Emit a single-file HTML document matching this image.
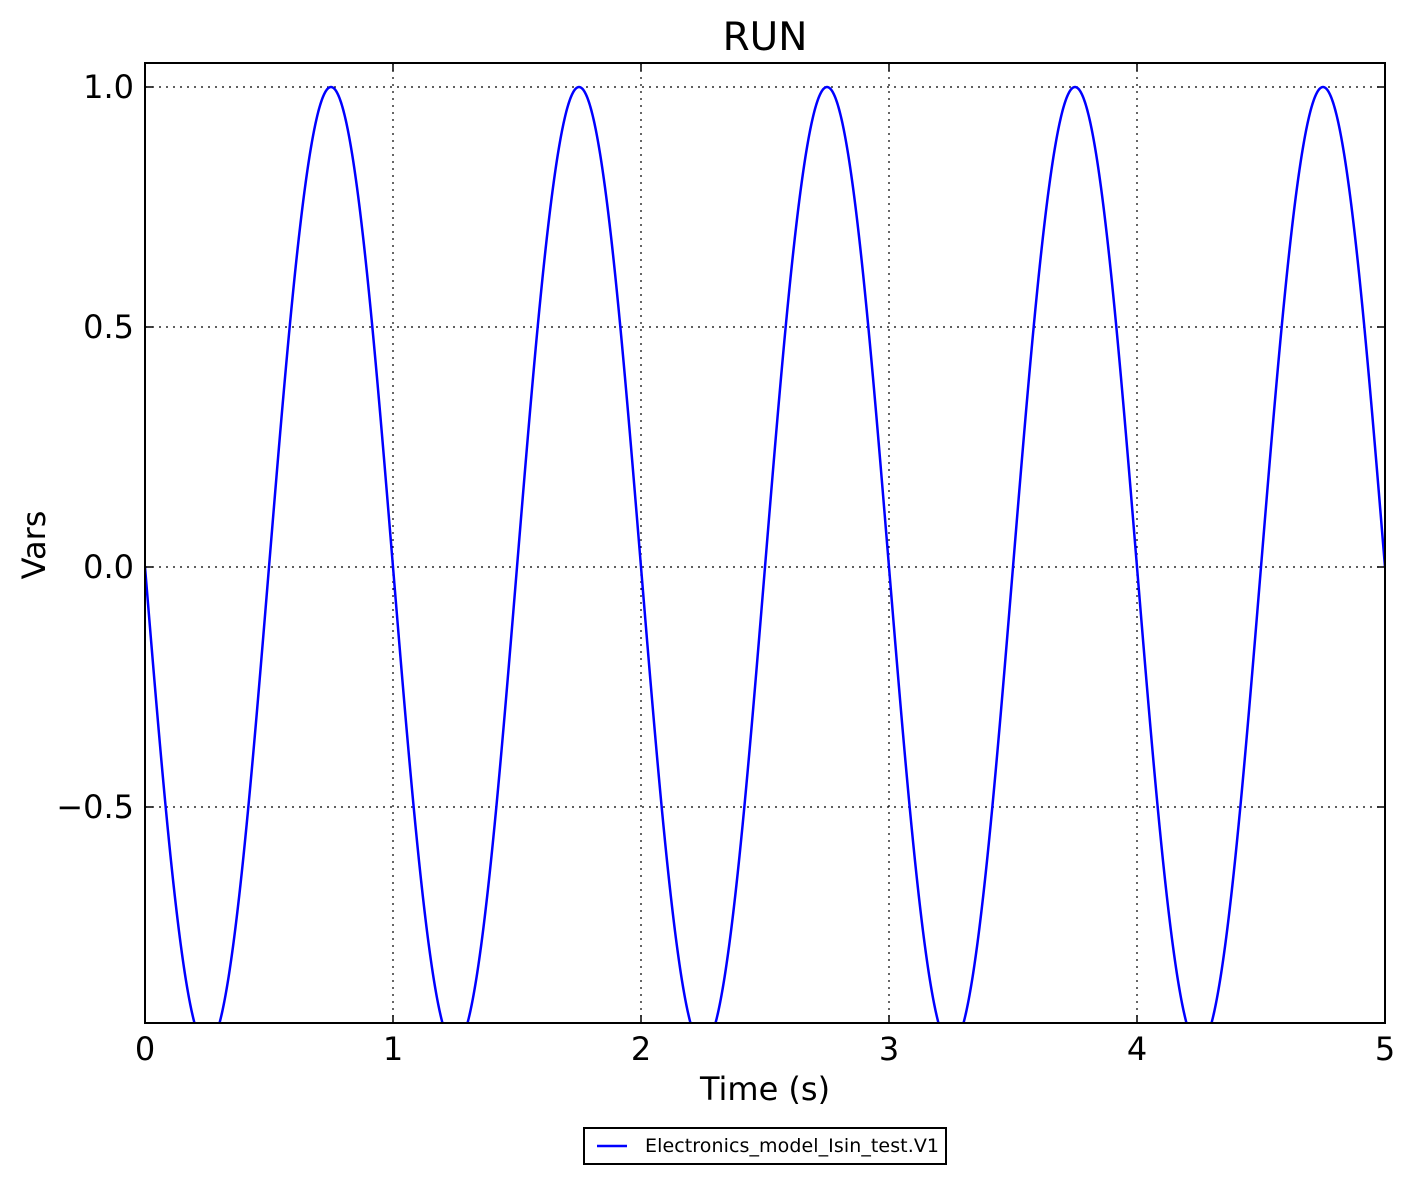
<!DOCTYPE html>
<html><head><meta charset="utf-8"><style>
html,body{margin:0;padding:0;background:#fff;}
svg text{font-family:"DejaVu Sans","Liberation Sans",sans-serif;fill:#000;}
</style></head><body>
<svg id="s" width="1412" height="1184" xmlns="http://www.w3.org/2000/svg">
<defs><clipPath id="c"><rect x="145" y="63" width="1240" height="960"/></clipPath></defs>
<rect width="1412" height="1184" fill="#fff"/>
<g stroke="#000" stroke-width="1.2" stroke-dasharray="2,5">
<line x1="393" y1="63" x2="393" y2="1023"/>
<line x1="641" y1="63" x2="641" y2="1023"/>
<line x1="889" y1="63" x2="889" y2="1023"/>
<line x1="1137" y1="63" x2="1137" y2="1023"/>
<line x1="145" y1="87" x2="1385" y2="87"/>
<line x1="145" y1="327" x2="1385" y2="327"/>
<line x1="145" y1="567" x2="1385" y2="567"/>
<line x1="145" y1="807" x2="1385" y2="807"/>
</g>
<path id="curve" clip-path="url(#c)" fill="none" stroke="#0000ff" stroke-width="2.5"/>
<g stroke="#000" stroke-width="1.5" id="ticks"></g>
<rect x="145" y="63" width="1240" height="960" fill="none" stroke="#000" stroke-width="2"/>
<g font-size="32" text-anchor="end">
<text x="134" y="98">1.0</text>
<text x="134" y="338">0.5</text>
<text x="134" y="578">0.0</text>
<text x="134" y="818">−0.5</text>
</g>
<g font-size="32" text-anchor="middle">
<text x="145" y="1060">0</text><text x="393" y="1060">1</text><text x="641" y="1060">2</text>
<text x="889" y="1060">3</text><text x="1137" y="1060">4</text><text x="1385" y="1060">5</text>
<text x="765" y="1100">Time (s)</text>
<text x="765" y="50" font-size="39">RUN</text>
<text transform="translate(45,545) rotate(-90)">Vars</text>
</g>
<rect x="584" y="1128" width="362" height="36" fill="#fff" stroke="#000" stroke-width="2"/>
<line x1="597" y1="1146" x2="627" y2="1146" stroke="#0000ff" stroke-width="2.5"/>
<text x="645" y="1152" font-size="19" textLength="294">Electronics_model_Isin_test.V1</text>
</svg>
<script>
var d="";for(var i=0;i<=2000;i++){var t=i/400;var y=-Math.sin(2*Math.PI*t);d+=(i?"L":"M")+(145+248*t).toFixed(2)+","+(567-480*y).toFixed(2);}
document.getElementById("curve").setAttribute("d",d);
var g=document.getElementById("ticks"),h="";
[145,393,641,889,1137,1385].forEach(function(x){h+='<line x1="'+x+'" y1="1023" x2="'+x+'" y2="1015"/><line x1="'+x+'" y1="63" x2="'+x+'" y2="71"/>';});
[87,327,567,807].forEach(function(y){h+='<line x1="145" y1="'+y+'" x2="153" y2="'+y+'"/><line x1="1385" y1="'+y+'" x2="1377" y2="'+y+'"/>';});
g.innerHTML=h;
</script>
</body></html>
